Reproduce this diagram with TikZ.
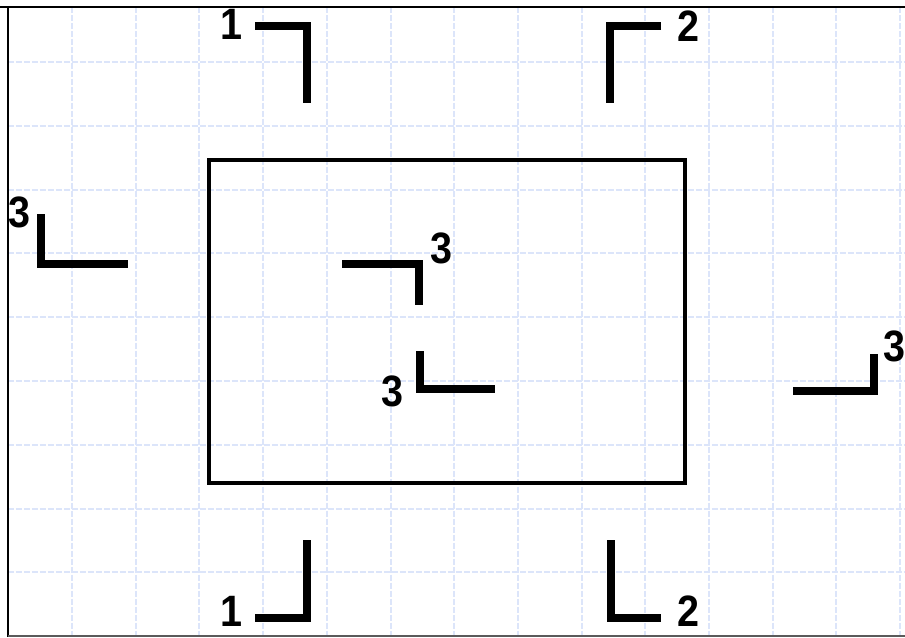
\documentclass[tikz,border=0pt]{standalone}
\usepackage{fontspec}
\setmainfont{Liberation Sans}
\definecolor{GridBlue}{HTML}{DCE5FA}
\definecolor{EdgeGrey}{HTML}{5A5A5A}

\begin{document}
\begin{tikzpicture}[x=0.02cm, y=-0.02cm,
  gridln/.style={GridBlue, line width=0.04cm, dash pattern=on 0.12cm off 0.04cm},
  frame/.style={line width=0.04cm},
  bracket/.style={line width=0.16cm, line cap=butt, line join=miter},
  tag/.style={font=\fontsize{25}{26}\selectfont\bfseries, inner sep=0pt, xscale=0.9}]
\useasboundingbox (0,0) rectangle (905,637);
\fill[white] (0,0) rectangle (905,637);

% squared paper
\foreach \gx in {0,...,13} \draw[gridln] ({72+63.7*\gx},7) -- ({72+63.7*\gx},637);
\foreach \gy in {0,...,8} \draw[gridln] (8,{62+63.8*\gy}) -- (905,{62+63.8*\gy});

% plan outline
\draw[line width=0.065cm] (209,160) rectangle (685,483);

% section marks
\draw[bracket] (255,25.5) -- (307,25.5) -- (307,103);
\draw[bracket] (661,25.5) -- (610,25.5) -- (610,103);
\draw[bracket] (41,214) -- (41,263.5) -- (128,263.5);
\draw[bracket] (342,264) -- (419,264) -- (419,305);
\draw[bracket] (419.5,351) -- (419.5,389) -- (495,389);
\draw[bracket] (793,390.5) -- (874,390.5) -- (874,354);
\draw[bracket] (306.5,540) -- (306.5,618) -- (255,618);
\draw[bracket] (610.5,540) -- (610.5,618) -- (661,618);

\node[tag] (cut1a) at (231,24.5) {1};
\node[tag] (cut2a) at (688,26) {2};
\node[tag] (cut3a) at (19,212) {3};
\node[tag] (cut3b) at (441,248) {3};
\node[tag] (cut3c) at (392,391) {3};
\node[tag] (cut3d) at (894,346) {3};
\node[tag] (cut1b) at (231,611) {1};
\node[tag] (cut2b) at (688,611) {2};

% frame
\draw[frame] (0,7) -- (905,7);
\draw[frame] (8,7) -- (8,637);
\draw[frame, EdgeGrey] (8,636) -- (905,636);
\end{tikzpicture}
\end{document}
